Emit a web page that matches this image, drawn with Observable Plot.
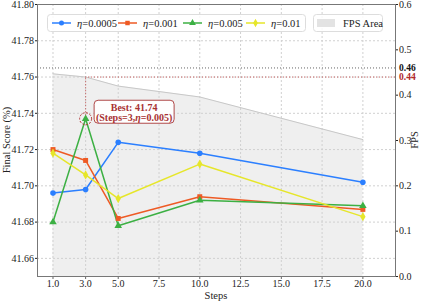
<!DOCTYPE html><html><head><meta charset="utf-8">
<script src="https://cdn.jsdelivr.net/npm/d3@7"></script>
<script src="https://cdn.jsdelivr.net/npm/@observablehq/plot@0.6"></script>
<style>body{margin:0;background:#fff}#c{position:relative;width:447px;height:302px}</style>
</head><body><div id="c"></div><script>
const steps=[1,3,5,10,20];
const eta0005=[41.696,41.698,41.724,41.718,41.702];
const eta001=[41.720,41.714,41.682,41.694,41.687];
const eta005=[41.680,41.737,41.678,41.692,41.689];
const eta01=[41.718,41.706,41.693,41.712,41.683];
const fps=[0.447,0.44,0.42,0.396,0.302];
const xTicks=[1,3,5,7.5,10,12.5,15,17.5,20];
const yTicks=[41.66,41.68,41.70,41.72,41.74,41.76,41.78,41.80];
const fpsTicks=[0,0.1,0.2,0.3,0.4,0.5,0.6];
const seriesNames=["η=0.0005","η=0.001","η=0.005","η=0.01"];
const etaLabels=["0.0005","0.001","0.005","0.01"];
const colors=["#2b7fff","#ee5a24","#3cb043","#e6e62a"];
const symbols=["circle","square","triangle","diamond"];
const refFps=[0.46,0.44];
const best={step:3,score:41.737,eta:"0.005",label:"41.74"};

const Y0=41.65,Y1=41.80,F1=0.6;
const f2y=v=>Y0+v*(Y1-Y0)/F1;
const y2f=v=>(v-Y0)*F1/(Y1-Y0);
const font='"Liberation Serif","Times New Roman",serif';
const allSeries=[eta0005,eta001,eta005,eta01];
const rows=[];
allSeries.forEach((s,k)=>s.forEach((v,i)=>rows.push({series:seriesNames[k],step:steps[i],score:v})));
const fpsRows=steps.map((s,i)=>({step:s,fps:fps[i]}));

const chart=Plot.plot({
  width:447,height:302,marginLeft:37,marginRight:52,marginTop:4,marginBottom:26,
  style:{fontFamily:font,fontSize:"10px",color:"#222",background:"#fff"},
  x:{domain:[0.05,22]},
  y:{domain:[Y0,Y1]},
  color:{domain:seriesNames,range:colors},
  symbol:{domain:seriesNames,range:symbols},
  marks:[
    Plot.areaY(fpsRows,{x:"step",y1:Y0,y2:d=>f2y(d.fps),fill:"#efefef"}),
    Plot.gridX({ticks:xTicks,stroke:"#d0d0d0",strokeOpacity:1,strokeDasharray:"2,2"}),
    Plot.gridY({ticks:yTicks,stroke:"#d0d0d0",strokeOpacity:1,strokeDasharray:"2,2"}),
    Plot.lineY(fpsRows,{x:"step",y:d=>f2y(d.fps),stroke:"#c8c8c8",strokeWidth:1}),
    Plot.ruleY([f2y(refFps[0])],{stroke:"#666",strokeDasharray:"1,2",strokeWidth:1}),
    Plot.ruleY([f2y(refFps[1])],{x1:best.step,x2:22,stroke:"#c05050",strokeDasharray:"1,2",strokeWidth:1}),
    Plot.ruleX([best.step],{y1:best.score,y2:f2y(refFps[1]),stroke:"#c05050",strokeDasharray:"1,2",strokeWidth:1}),
    Plot.line(rows,{x:"step",y:"score",z:"series",stroke:"series",strokeWidth:1.5}),
    Plot.dot(rows,{x:"step",y:"score",fill:"series",symbol:"series",r:2.8,stroke:null}),
    Plot.dot([best],{x:"step",y:"score",r:6,fill:"none",stroke:"#b03030",strokeWidth:1,strokeDasharray:"2,1.5"}),
    Plot.axisX({ticks:xTicks,tickFormat:d=>d.toFixed(1),tickSize:3,tickPadding:0,stroke:"#666",fontSize:10,label:null}),
    Plot.axisY({ticks:yTicks,tickFormat:d=>d.toFixed(2),tickSize:2,tickPadding:1.5,fontSize:10,label:null}),
    Plot.axisY({anchor:"right",ticks:fpsTicks.map(f2y),tickFormat:d=>y2f(d).toFixed(1),tickSize:2,tickPadding:1.5,fontSize:10,label:null}),
    Plot.text(refFps,{x:22,y:f2y,text:d=>d.toFixed(2),fill:(d,i)=>i===0?"#111":"#b02a2a",fontWeight:"bold",textAnchor:"start",dx:3.5,fontSize:9.5}),
    Plot.frame({stroke:"#777"})
  ]
});
document.getElementById("c").appendChild(chart);
const svg=d3.select(chart);
const X=chart.scale("x"),Y=chart.scale("y");
const bx=X.apply(best.step),by=Y.apply(best.score);
// axis labels
const al=svg.append("g").attr("font-family",font).attr("font-size",10.5).attr("fill","#222").attr("text-anchor","middle");
al.append("text").attr("x",(37+395)/2).attr("y",299).text("Steps");
al.append("text").attr("transform","translate(10,140) rotate(-90)").text("Final Score (%)");
al.append("text").attr("transform","translate(418,140) rotate(-90)").text("FPS");
// annotation
const ann=svg.append("g").attr("font-family",font).attr("font-weight","bold").attr("font-size",10).attr("fill","#a83232").attr("text-anchor","middle");
ann.append("rect").attr("x",bx+9).attr("y",by-18).attr("width",80).attr("height",23).attr("rx",4).attr("fill","#fff").attr("fill-opacity",0.9).attr("stroke","#b04848").attr("stroke-width",1);
ann.append("text").attr("x",bx+49).attr("y",by-7).text("Best: "+best.label);
const t2=ann.append("text").attr("x",bx+49).attr("y",by+2.5);
t2.append("tspan").text("(Steps="+best.step+",");
t2.append("tspan").attr("font-style","italic").text("η");
t2.append("tspan").text("="+best.eta+")");
// legend
const lg=svg.append("g").attr("font-family",font).attr("font-size",10.5).attr("fill","#222").attr("text-anchor","start");
lg.append("rect").attr("x",47.5).attr("y",14.5).attr("width",258).attr("height",17).attr("rx",3).attr("fill","#fff").attr("fill-opacity",0.85).attr("stroke","#ddd");
const lx=[52,118,183,246];
seriesNames.forEach((n,k)=>{
  const g=lg.append("g");
  g.append("line").attr("x1",lx[k]).attr("x2",lx[k]+19).attr("y1",23).attr("y2",23).attr("stroke",colors[k]).attr("stroke-width",1.5);
  g.append("path").attr("transform",`translate(${lx[k]+9.5},23)`).attr("d",d3.symbol(d3["symbol"+symbols[k][0].toUpperCase()+symbols[k].slice(1)],20)()).attr("fill",colors[k]);
  const t=g.append("text").attr("x",lx[k]+25).attr("y",26.5);
  t.append("tspan").attr("font-style","italic").text("η");
  t.append("tspan").text("="+etaLabels[k]);
});
lg.append("rect").attr("x",313.5).attr("y",14.5).attr("width",69).attr("height",17).attr("rx",3).attr("fill","#fff").attr("fill-opacity",0.85).attr("stroke","#ddd");
lg.append("rect").attr("x",317).attr("y",19).attr("width",18).attr("height",8).attr("fill","#e3e3e3");
lg.append("text").attr("x",343).attr("y",26.5).text("FPS Area");
</script></body></html>
